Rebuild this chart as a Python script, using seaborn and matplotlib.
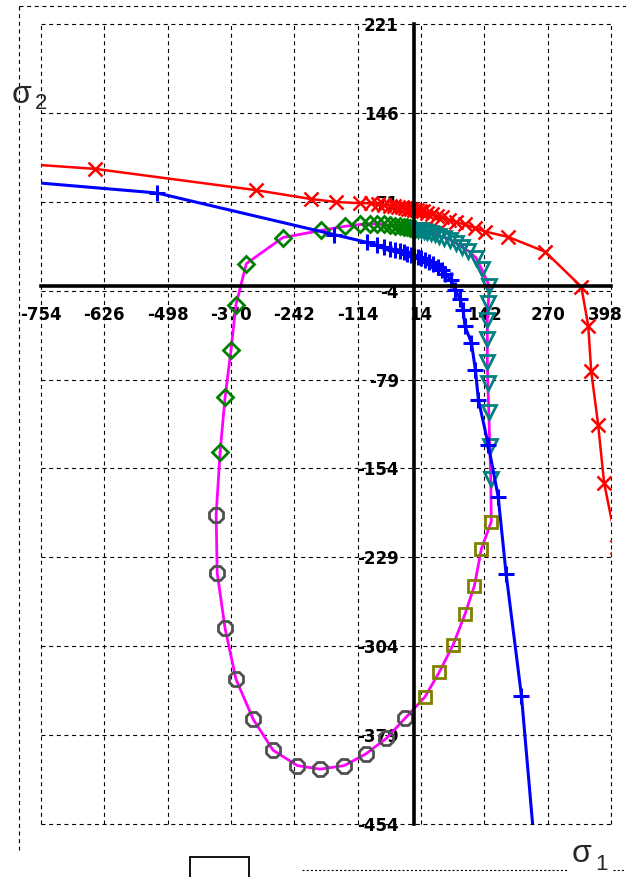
import matplotlib
matplotlib.use("Agg")
import matplotlib.pyplot as plt
from matplotlib.lines import Line2D
from matplotlib.patches import Rectangle
from matplotlib.transforms import ScaledTranslation
import seaborn as sns

# ---- axis ticks -------------------------------------------------------
x_ticks = [-754, -626, -498, -370, -242, -114, 14, 142, 270, 398]
y_ticks = [221, 146, 71, -4, -79, -154, -229, -304, -379, -454]

# ---- red path (x markers) ---------------------------------------------
red_x = [-800, -645, -319, -208, -157, -109, -88, -72, -60, -49, -40, -32, -25,
         -18, -12, -6, 0, 6, 12, 19, 27, 36, 46, 57, 70, 85, 103, 124, 144,
         190, 265, 338, 352, 358, 372, 384, 410]
red_y = [103.5, 99, 81, 73.5, 71, 70, 70, 69, 68.5, 68, 67.5, 67, 66.5,
         66, 65.5, 65, 64.5, 64, 63.5, 63, 62, 61, 59.5, 58, 56, 54, 52, 49, 46,
         41.5, 29, -0.6, -33.5, -72, -117, -166, -220]

# ---- blue path (+ markers) --------------------------------------------
blue_x = [-800, -519, -162, -96, -75, -60, -48, -38, -29, -21, -14, -7, 0, 7,
          14, 22, 30, 39, 48, 56, 63, 75, 83, 93, 99, 103, 116, 124, 130, 150,
          170, 186, 217, 247]
blue_y = [88.6, 78.6, 43.5, 37, 34.5, 33, 31.5, 30.5, 29.5, 28.5, 27.5, 26.5,
          25.5, 24.5, 23.5, 22, 20.5, 18.5, 16, 13.5, 10, 5, -3, -11, -20, -34,
          -48, -71, -96, -134, -178, -243, -346, -490]

# ---- closed loop, split into four marked stretches ---------------------
diamond_x = [-392, -382, -370, -360, -339, -265, -188, -139, -109, -90, -74,
             -60, -48, -38, -29, -21, -14, -8, -3, 2]
diamond_y = [-140, -94, -54, -16, 19, 41, 47, 50.5, 52, 52.5, 52.5,
             52, 51.5, 51, 50.5, 50, 49.5, 49, 48.5, 48]

tri_x = [8, 14, 20, 27, 34, 42, 51, 61, 72, 84, 97, 110, 125, 137, 152, 150,
         148, 148, 148, 149, 151, 153, 155]
tri_y = [47.5, 47, 46.5, 46, 45, 44, 42.5, 41, 39, 36.5, 33, 29.5, 24, 14, 0,
         -14, -29, -45, -64, -82, -106, -135, -163]

square_x = [156, 136, 122, 103, 79, 51, 22]
square_y = [-199, -222, -253, -277, -303, -326, -347]

circle_x = [-18, -56, -97, -141, -190, -236, -285, -325, -360, -382, -398, -400]
circle_y = [-365, -382, -395, -405, -408, -405, -392, -366, -332, -289, -242,
            -193]

loop_x = diamond_x + tri_x + square_x + circle_x + diamond_x[:1]
loop_y = diamond_y + tri_y + square_y + circle_y + diamond_y[:1]

# ---- figure -----------------------------------------------------------
sns.set_style("white")
plt.rcParams["lines.scale_dashes"] = False
plt.rcParams["font.family"] = ["DejaVu Sans"]
plt.rcParams["font.weight"] = "bold"

W, H = 626, 877
fig = plt.figure(figsize=(W / 100, H / 100), dpi=100)
fig.patch.set_facecolor("white")

left, right, top, bottom = 41, 611, 24.4, 823.6
ax = fig.add_axes([left / W, 1 - bottom / H, (right - left) / W, (bottom - top) / H])
ax.set_facecolor("white")


def trace(xs, ys, color, marker=None, ms=8, lw=2.0, ls="-", z=2, mew=2.0):
    sns.lineplot(x=xs, y=ys, sort=False, estimator=None, errorbar=None,
                 color=color, lw=lw, ls=ls, marker=marker, markersize=ms,
                 markeredgecolor=color, markeredgewidth=mew,
                 markerfacecolor="none", ax=ax, zorder=z, legend=False)


# loop curve and its markers
trace(loop_x, loop_y, "#ff00ff", lw=2.0, z=3)
trace(diamond_x, diamond_y, "#008000", marker="D", ms=8.5, ls="", z=4)
trace(tri_x, tri_y, "#008080", marker="v", ms=10, ls="", z=4)
trace(square_x, square_y, "#808000", marker="s", ms=8.5, ls="", z=4)
trace(circle_x, circle_y, "#505050", marker="8", ms=10.5, ls="", z=4)

# the two loading paths
trace(blue_x, blue_y, "#0000ff", marker="+", ms=12, lw=2.2, z=5, mew=2.2)
trace(red_x, red_y, "#ff0000", marker="x", ms=9.5, lw=1.8, z=6, mew=1.8)

# ---- axes through the origin -----------------------------------------
ax.set_xlim(x_ticks[0], x_ticks[-1])
ax.set_ylim(y_ticks[-1], y_ticks[0])
ax.set_xticks(x_ticks)
ax.set_yticks(y_ticks)
ax.set_xticklabels([str(t) for t in x_ticks])
ax.set_yticklabels([str(t) for t in y_ticks])
ax.set_xlabel("")
ax.set_ylabel("")

for side in ("top", "right"):
    ax.spines[side].set_visible(False)
ax.spines["left"].set_position(("data", 0))
ax.spines["bottom"].set_position(("data", 0))
for side in ("left", "bottom"):
    ax.spines[side].set_linewidth(2.6)
    ax.spines[side].set_color("black")
    ax.spines[side].set_zorder(7)
ax.tick_params(direction="inout", length=6, width=2.2, color="black",
               labelcolor="black", labelsize=12)
ax.tick_params(axis="x", pad=11)
ax.tick_params(axis="y", pad=8)
for lbl in ax.get_xticklabels() + ax.get_yticklabels():
    lbl.set_fontweight("bold")
    lbl.set_fontsize(12)

# keep the rightmost x label inside the canvas
last = ax.get_xticklabels()[-1]
last.set_transform(last.get_transform() + ScaledTranslation(-4 / 72, 0, fig.dpi_scale_trans))

ax.set_axisbelow(True)
ax.grid(True, color="black", lw=0.8, ls=(0, (2.9, 2.6)))
for gl in ax.get_xgridlines() + ax.get_ygridlines():
    gl.set_clip_on(False)


# ---- frame and symbols around the plot ---------------------------------
def px(x, y):
    return x / W, 1 - y / H


dash = (0, (2.9, 2.6))
fig.add_artist(Line2D([px(19, 0)[0], px(626, 0)[0]], [px(0, 6)[1]] * 2,
                      color="black", lw=0.8, ls=dash))
fig.add_artist(Line2D([px(19, 0)[0]] * 2, [px(0, 6)[1], px(0, 850)[1]],
                      color="black", lw=0.8, ls=dash))
fig.add_artist(Line2D([px(302, 0)[0], px(568, 0)[0]], [px(0, 870)[1]] * 2,
                      color="black", lw=0.8, ls=(0, (1.5, 1.5))))
fig.add_artist(Line2D([px(613, 0)[0], px(626, 0)[0]], [px(0, 870)[1]] * 2,
                      color="black", lw=0.8, ls=(0, (1.5, 1.5))))
bx, by = px(190, 880)
bx2, by2 = px(249, 857)
fig.add_artist(Rectangle((bx, by), bx2 - bx, by2 - by, transform=fig.transFigure,
                         fill=False, ec="black", lw=1.3))

sig_font = ["Liberation Sans", "DejaVu Sans"]
fig.text(*px(12, 103), "σ", fontsize=23, family=sig_font, fontweight="normal",
         va="baseline", ha="left")
fig.text(*px(35, 109), "2", fontsize=16, family=sig_font, fontweight="normal",
         va="baseline", ha="left")
fig.text(*px(572, 862), "σ", fontsize=23, family=sig_font, fontweight="normal",
         va="baseline", ha="left")
fig.text(*px(595, 870), "1", fontsize=16, family=sig_font, fontweight="normal",
         va="baseline", ha="left")

fig.savefig("out.png", dpi=100, facecolor="white")
